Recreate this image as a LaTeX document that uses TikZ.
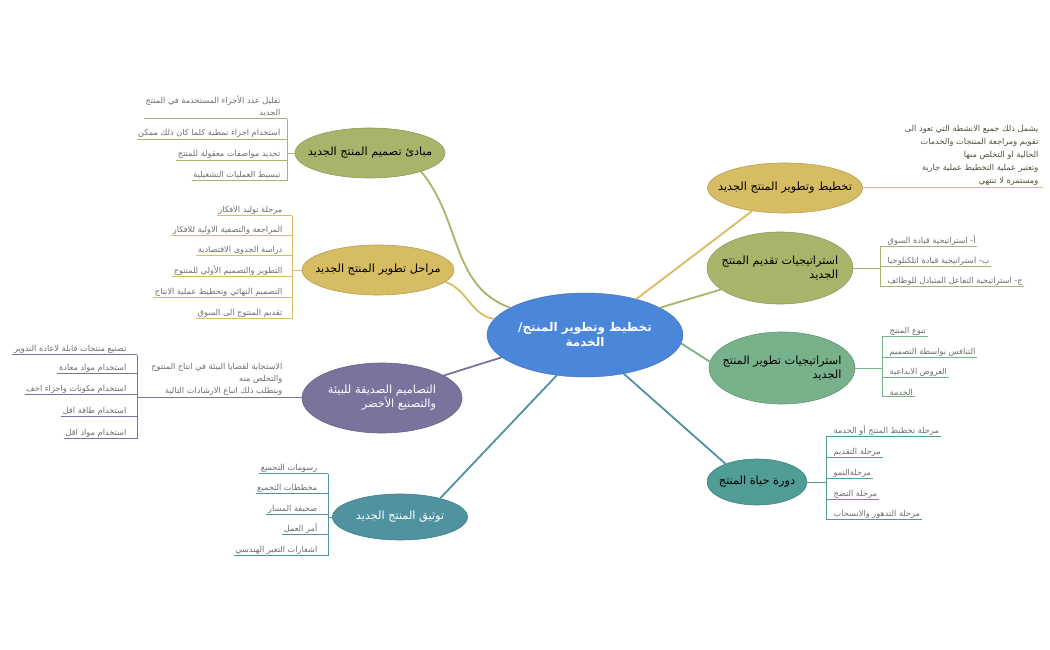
\documentclass[tikz,border=0pt]{standalone}
\usepackage{fontspec}
\usetikzlibrary{shapes.geometric}
\newfontfamily\arabicfont[Script=Arabic]{DejaVu Sans}
\TeXXeTstate=1
\newcommand{\ar}[1]{{\arabicfont\beginR #1\endR}}
\definecolor{cblue}{HTML}{4A86D9}
\definecolor{colive}{HTML}{A9B46A}
\definecolor{cgold}{HTML}{D6BC62}
\definecolor{cpurple}{HTML}{7A739E}
\definecolor{cteal}{HTML}{4E939F}
\definecolor{cgreen}{HTML}{78B28A}
\definecolor{cteal2}{HTML}{4F9D95}
\definecolor{leafgray}{HTML}{6E6E6E}
\tikzset{
  br/.style={ellipse,fill=#1,draw=#1!85!black,line width=0.6pt,inner sep=0pt},
  brtext/.style={inner sep=0pt,font=\fontsize{11.3}{14}\selectfont,align=right},
  leafL/.style={anchor=base east,inner sep=1.5pt,text=leafgray,font=\fontsize{8.2}{12}\selectfont,align=right},
  leafR/.style={anchor=base west,inner sep=1.5pt,text=leafgray,font=\fontsize{8.2}{12}\selectfont,align=right},
  con/.style={line width=1.8pt,#1},
  ln/.style={line width=0.9pt,#1}
}
\begin{document}
\begin{tikzpicture}[x=1pt,y=-1pt]
\useasboundingbox[fill=white] (0,0) rectangle (1050,650);
% central
\node[ellipse,fill=cblue,draw=cblue!80!black,minimum width=196,minimum height=84,inner sep=0pt] (c) at (585,335) {};
\node[text=white,font=\fontsize{12}{15}\selectfont\bfseries,align=center] (ct) at (c) {\ar{تخطيط وتطوير المنتج/}\\\ar{الخدمة}};
% branches
\node[br=colive,minimum width=150,minimum height=50] (n1) at (370,153) {};
\node[brtext] (n1t) at (n1) {\ar{مبادئ تصميم المنتج الجديد}};
\node[br=cgold,minimum width=152,minimum height=50] (n2) at (378,270) {};
\node[brtext] (n2t) at (n2) {\ar{مراحل تطوير المنتج الجديد}};
\node[br=cpurple,minimum width=160,minimum height=70] (n3) at (382,398) {};
\node[brtext,text=white] (n3t) at (n3) {\ar{التصاميم الصديقة للبيئة}\\\ar{والتصنيع الأخضر}};
\node[br=cteal,minimum width=135,minimum height=46] (n4) at (400,517) {};
\node[brtext,text=white] (n4t) at (n4) {\ar{توثيق المنتج الجديد}};
\node[br=cgold,minimum width=155,minimum height=50] (n5) at (785,188) {};
\node[brtext] (n5t) at (n5) {\ar{تخطيط وتطوير المنتج الجديد}};
\node[br=colive,minimum width=146,minimum height=72] (n6) at (780,268) {};
\node[brtext] (n6t) at (n6) {\ar{استراتيجيات تقديم المنتج}\\\ar{الجديد}};
\node[br=cgreen,minimum width=146,minimum height=72] (n7) at (782,368) {};
\node[brtext] (n7t) at (n7) {\ar{استراتيجيات تطوير المنتج}\\\ar{الجديد}};
\node[br=cteal2,minimum width=100,minimum height=46] (n8) at (757,482) {};
\node[brtext] (n8t) at (n8) {\ar{دورة حياة المنتج}};
% connectors from center
\begin{scope}[on background layer/.style={}]
\end{scope}
\draw[con=colive] (c.160) to[out=160,in=-50] (n1.-20);
\draw[con=cgold] (c.170) to[out=170,in=-20] (n2.-10);
\draw[con=cpurple] (c.195) -- (n3.20);
\draw[con=cteal] (c.235) -- (n4.25);
\draw[con=cgold] (c.35) -- (n5.215);
\draw[con=colive] (c.20) -- (n6.200);
\draw[con=cgreen] (c.-5) -- (n7.175);
\draw[con=cteal] (c.-45) -- (n8.150);
% branch 1 leaves
\coordinate (b1) at (287,0);
\node[leafL] (a1) at (282,116) {\ar{تقليل عدد الأجزاء المستخدمة في المنتج}\\\ar{الجديد}};
\node[leafL] (a2) at (282,136) {\ar{استخدام اجزاء نمطية كلما كان ذلك ممكن}};
\node[leafL] (a3) at (282,157) {\ar{تحديد مواصفات معقولة للمنتج}};
\node[leafL] (a4) at (282,178) {\ar{تبسيط العمليات التشغيلية}};
\foreach \i in {a1,a2,a3,a4} \draw[ln=colive] (\i.south west) -- (\i.south west -| b1);
\draw[ln=colive] (a1.south west -| b1) -- (a4.south west -| b1);
\draw[ln=colive] (n1.west) -- (n1.west -| b1);
% branch 2
\coordinate (b2) at (292,0);
\node[leafL] (m1) at (284,212) {\ar{مرحلة توليد الافكار}};
\node[leafL] (m2) at (284,232) {\ar{المراجعة والتصفية الاولية للافكار}};
\node[leafL] (m3) at (284,252) {\ar{دراسة الجدوى الاقتصادية}};
\node[leafL] (m4) at (284,273) {\ar{التطوير والتصميم الأولي للمنتوج}};
\node[leafL] (m5) at (284,294) {\ar{التصميم النهائي وتخطيط عملية الانتاج}};
\node[leafL] (m6) at (284,315) {\ar{تقديم المنتوج الى السوق}};
\foreach \i in {m1,m2,m3,m4,m5,m6} \draw[ln=cgold] (\i.south west) -- (\i.south west -| b2);
\draw[ln=cgold] (m1.south west -| b2) -- (m6.south west -| b2);
\draw[ln=cgold] (n2.west) -- (n2.west -| b2);
% branch 3
\coordinate (b3) at (137,0);
\node[leafL] (g0) at (284,393) {\ar{الاستجابة لقضايا البيئة في انتاج المنتوج}\\\ar{والتخلص منه}\\\ar{ويتطلب ذلك اتباع الارشادات التالية}};
\draw[ln=cpurple] (n3.west |- 0,397) -- (b3 |- 0,397);
\node[leafL] (g1) at (128,351) {\ar{تصنيع منتجات قابلة لاعادة التدوير}};
\node[leafL] (g2) at (128,370) {\ar{استخدام مواد معادة}};
\node[leafL] (g3) at (128,391) {\ar{استخدام مكونات واجزاء اخف}};
\node[leafL] (g4) at (128,413) {\ar{استخدام طاقة اقل}};
\node[leafL] (g5) at (128,435) {\ar{استخدام مواد اقل}};
\foreach \i in {g1,g2,g3,g4,g5} \draw[ln=cpurple] (\i.south west) -- (\i.south west -| b3);
\draw[ln=cpurple] (g1.south west -| b3) -- (g5.south west -| b3);
% branch 4
\coordinate (b4) at (328,0);
\node[leafL] (d1) at (319,470) {\ar{رسومات التجميع}};
\node[leafL] (d2) at (319,490) {\ar{مخططات التجميع}};
\node[leafL] (d3) at (319,511) {\ar{صحيفة المسار}};
\node[leafL] (d4) at (319,531) {\ar{أمر العمل}};
\node[leafL] (d5) at (319,552) {\ar{اشعارات التغير الهندسي}};
\foreach \i in {d1,d2,d3,d4,d5} \draw[ln=cteal] (\i.south west) -- (\i.south west -| b4);
\draw[ln=cteal] (d1.south west -| b4) -- (d5.south west -| b4);
\draw[ln=cteal] (n4.west) -- (n4.west -| b4);
% branch 5
\node[anchor=base east,inner sep=1.5pt,text=leafgray!70!cgold!60!black,font=\fontsize{8.2}{12.8}\selectfont,align=right] (t1) at (1040,183) {\ar{يشمل ذلك جميع الانشطة التي تعود الى}\\\ar{تقويم ومراجعة المنتجات والخدمات}\\\ar{الحالية او التخلص منها}\\\ar{وتعتبر عملية التخطيط عملية جارية}\\\ar{ومستمرة لا تنتهي}};
\coordinate (e5) at (1043,187);
\draw[ln=cgold] (n5.east |- e5) -- (e5);
% branch 6
\coordinate (b6) at (880,0);
\node[leafR] (s1) at (886,243) {\ar{أ- استراتيجية قيادة السوق}};
\node[leafR] (s2) at (886,263) {\ar{ب- استراتيجية قيادة اتلكنلوجيا}};
\node[leafR] (s3) at (886,283) {\ar{ج- استراتيجية التفاعل المتبادل للوظائف}};
\foreach \i in {s1,s2,s3} \draw[ln=colive] (\i.south east) -- (\i.south east -| b6);
\draw[ln=colive] (s1.south east -| b6) -- (s3.south east -| b6);
\draw[ln=colive] (n6.east) -- (n6.east -| b6);
% branch 7
\coordinate (b7) at (882,0);
\node[leafR] (v1) at (888,333) {\ar{تنوع المنتج}};
\node[leafR] (v2) at (888,354) {\ar{التنافس بواسطة التصميم}};
\node[leafR] (v3) at (888,374) {\ar{العروض الابداعية}};
\node[leafR] (v4) at (888,395) {\ar{الخدمة}};
\foreach \i in {v1,v2,v3,v4} \draw[ln=cgreen] (\i.south east) -- (\i.south east -| b7);
\draw[ln=cgreen] (v1.south east -| b7) -- (v4.south east -| b7);
\draw[ln=cgreen] (n7.east) -- (n7.east -| b7);
% branch 8
\coordinate (b8) at (826,0);
\node[leafR] (h1) at (832,433) {\ar{مرحلة تخطيط المنتج أو الخدمة}};
\node[leafR] (h2) at (832,454) {\ar{مرحلة التقديم}};
\node[leafR] (h3) at (832,475) {\ar{مرحلةالنمو}};
\node[leafR] (h4) at (832,496) {\ar{مرحلة النضج}};
\node[leafR] (h5) at (832,516) {\ar{مرحلة التدهور والانسحاب}};
\foreach \i in {h1,h2,h3,h4,h5} \draw[ln=cteal2] (\i.south east) -- (\i.south east -| b8);
\draw[ln=cteal2] (h1.south east -| b8) -- (h5.south east -| b8);
\draw[ln=cteal2] (n8.east) -- (n8.east -| b8);
\end{tikzpicture}
\end{document}
